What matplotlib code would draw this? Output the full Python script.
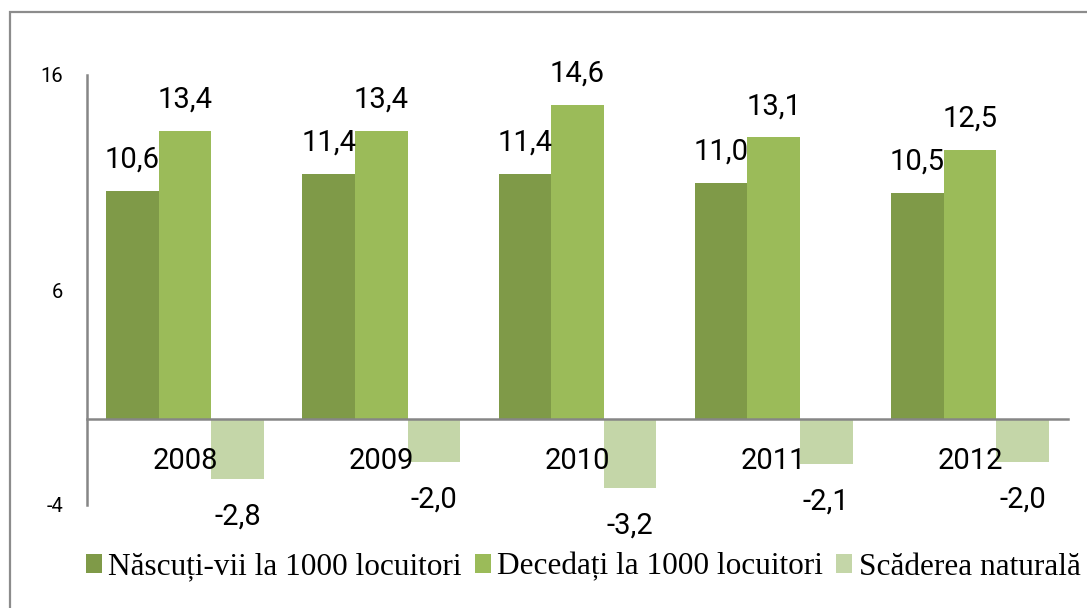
import matplotlib.pyplot as plt
import numpy as np
from matplotlib.patches import Rectangle

# Rata natalității, mortalității și scăderea naturală (la 1000 locuitori)
ani = ["2008", "2009", "2010", "2011", "2012"]
nascuti = [10.6, 11.4, 11.4, 11.0, 10.5]
decedati = [13.4, 13.4, 14.6, 13.1, 12.5]
scadere = [-2.8, -2.0, -3.2, -2.1, -2.0]

serii = ["Născuți-vii la 1000 locuitori", "Decedați la 1000 locuitori", "Scăderea naturală"]
culori = ["#7F9A48", "#9BBB59", "#C4D6A8"]
valori = [nascuti, decedati, scadere]

W, H = 1087, 608
fig = plt.figure(figsize=(W / 100, H / 100), dpi=100)
ax = fig.add_axes([87 / W, 1 - 505 / H, (1068 - 87) / W, (505 - 75) / H])

# chenarul exterior al diagramei
fig.patches.append(Rectangle((10 / W, -0.1), 1.2, 1 - 12 / H + 0.1, transform=fig.transFigure,
                             fill=False, edgecolor="#8C8C8C", linewidth=1.6))

# axa orizontală trece prin zero (înainte de etichete, altfel se resetează)
ax.spines["bottom"].set_position(("data", 0))
for s in ["top", "right"]:
    ax.spines[s].set_visible(False)
for s in ["bottom", "left"]:
    ax.spines[s].set_color("#868686")
    ax.spines[s].set_linewidth(1.8)
ax.spines["bottom"].set_zorder(3)
# etichetele anilor se desenează peste coloane
ax.set_axisbelow(False)

x = np.arange(len(ani))
lat = 0.268
for k, (serie, vals, cul) in enumerate(zip(serii, valori, culori)):
    pos = x + (k - 1) * lat
    ax.bar(pos, vals, width=lat, color=cul, label=serie, zorder=2)
    for xi, v in zip(pos, vals):
        off = 22.5 if v >= 0 else -27
        ax.annotate(f"{v:.1f}".replace(".", ","), (xi, v), xytext=(0, off),
                    textcoords="offset points", ha="center", va="center",
                    fontsize=21, family="Roboto", color="black")

ax.set_xlim(-0.5, len(ani) - 0.5)
ax.set_ylim(-4, 16)
ax.set_yticks([-4, 6, 16])
ax.set_yticklabels(["-4", "6", "16"], family="Roboto", fontsize=14.5)
ax.tick_params(axis="y", length=0, pad=17)

ax.set_xticks(x)
ax.set_xticklabels(ani, family="Roboto", fontsize=21)
ax.tick_params(axis="x", length=0, pad=20)

fig.legend(loc="center", bbox_to_anchor=(583 / W, 1 - 567 / H), ncol=3, frameon=False,
           prop={"family": "Liberation Serif", "size": 22.5}, handlelength=0.52,
           handleheight=0.52, handletextpad=0.2, columnspacing=0.42, borderpad=0)

fig.savefig("out.png", dpi=100)
